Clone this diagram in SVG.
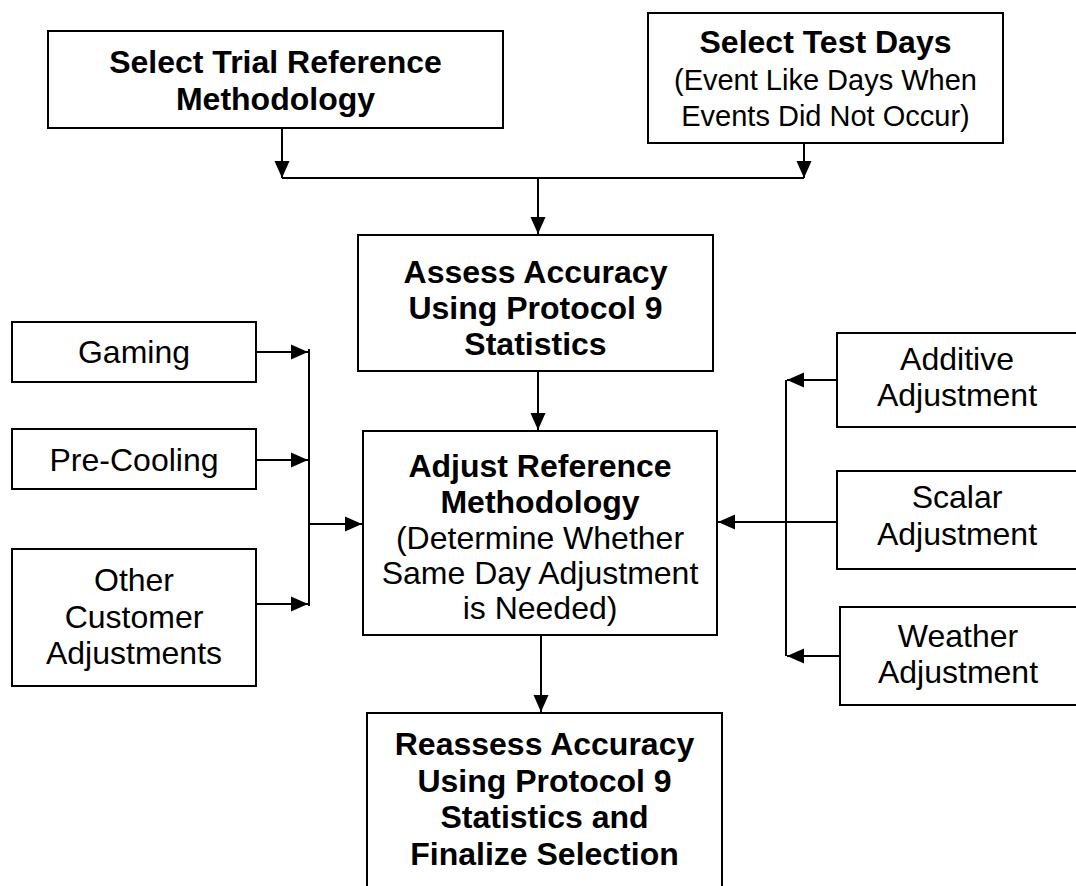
<svg xmlns="http://www.w3.org/2000/svg" width="1076" height="886" viewBox="0 0 1076 886">
  <style>
    .box { fill: #ffffff; stroke: #000000; stroke-width: 2; }
    .wire { fill: none; stroke: #000000; stroke-width: 2; }
    .t { font-family: "Liberation Sans", Arial, sans-serif; fill: #000000; text-anchor: middle; }
    .b { font-size: 32px; font-weight: bold; }
    .r { font-size: 32px; }
    .s { font-size: 29px; }
  </style>
  <defs>
    <marker id="arrow" markerUnits="userSpaceOnUse" markerWidth="17" markerHeight="16" viewBox="0 0 17 16" refX="17" refY="8" orient="auto">
      <path d="M0,0.5 L17,8 L0,15.5 Z" fill="#000000"/>
    </marker>
  </defs>

  <rect width="1076" height="886" fill="#ffffff"/>

  <!-- connectors -->
  <g id="connectors">
    <line class="wire" x1="282" y1="128" x2="282" y2="178" marker-end="url(#arrow)"/>
    <line class="wire" x1="804" y1="143" x2="804" y2="178" marker-end="url(#arrow)"/>
    <line class="wire" x1="282" y1="178" x2="804" y2="178"/>
    <line class="wire" x1="538" y1="178" x2="538" y2="234" marker-end="url(#arrow)"/>
    <line class="wire" x1="538" y1="371" x2="538" y2="430" marker-end="url(#arrow)"/>
    <line class="wire" x1="541" y1="635" x2="541" y2="712" marker-end="url(#arrow)"/>

    <!-- left collector -->
    <line class="wire" x1="256" y1="352" x2="308" y2="352" marker-end="url(#arrow)"/>
    <line class="wire" x1="256" y1="460" x2="308" y2="460" marker-end="url(#arrow)"/>
    <line class="wire" x1="256" y1="604" x2="308" y2="604" marker-end="url(#arrow)"/>
    <line class="wire" x1="309" y1="349" x2="309" y2="606"/>
    <line class="wire" x1="309" y1="524" x2="362" y2="524" marker-end="url(#arrow)"/>

    <!-- right collector -->
    <line class="wire" x1="837" y1="380" x2="787" y2="380" marker-end="url(#arrow)"/>
    <line class="wire" x1="837" y1="522" x2="718" y2="522" marker-end="url(#arrow)"/>
    <line class="wire" x1="840" y1="656" x2="787" y2="656" marker-end="url(#arrow)"/>
    <line class="wire" x1="786" y1="380" x2="786" y2="656"/>
  </g>

  <g id="select-trial">
    <rect class="box" x="48" y="31" width="455" height="97"/>
    <text class="t b" x="275.5" y="73">Select Trial Reference</text>
    <text class="t b" x="275.5" y="110">Methodology</text>
  </g>

  <g id="select-test-days">
    <rect class="box" x="648" y="13" width="355" height="130"/>
    <text class="t b" x="825.5" y="53">Select Test Days</text>
    <text class="t s" x="825.5" y="90">(Event Like Days When</text>
    <text class="t s" x="825.5" y="126">Events Did Not Occur)</text>
  </g>

  <g id="assess-accuracy">
    <rect class="box" x="358" y="235" width="355" height="136"/>
    <text class="t b" x="535.5" y="283">Assess Accuracy</text>
    <text class="t b" x="535.5" y="319">Using Protocol 9</text>
    <text class="t b" x="535.5" y="355">Statistics</text>
  </g>

  <g id="adjust-reference">
    <rect class="box" x="363" y="431" width="354" height="204"/>
    <text class="t b" x="540" y="477">Adjust Reference</text>
    <text class="t b" x="540" y="513">Methodology</text>
    <text class="t r" x="540" y="549">(Determine Whether</text>
    <text class="t r" x="540" y="584">Same Day Adjustment</text>
    <text class="t r" x="540" y="619">is Needed)</text>
  </g>

  <g id="reassess-accuracy">
    <rect class="box" x="367" y="713" width="355" height="200"/>
    <text class="t b" x="544.5" y="755">Reassess Accuracy</text>
    <text class="t b" x="544.5" y="792">Using Protocol 9</text>
    <text class="t b" x="544.5" y="828">Statistics and</text>
    <text class="t b" x="544.5" y="865">Finalize Selection</text>
  </g>

  <g id="gaming">
    <rect class="box" x="12" y="322" width="244" height="60"/>
    <text class="t r" x="134" y="363">Gaming</text>
  </g>

  <g id="pre-cooling">
    <rect class="box" x="12" y="429" width="244" height="60"/>
    <text class="t r" x="134" y="471">Pre-Cooling</text>
  </g>

  <g id="other-customer">
    <rect class="box" x="12" y="549" width="244" height="137"/>
    <text class="t r" x="134" y="591">Other</text>
    <text class="t r" x="134" y="628">Customer</text>
    <text class="t r" x="134" y="664">Adjustments</text>
  </g>

  <g id="additive">
    <rect class="box" x="837" y="333" width="242" height="94"/>
    <text class="t r" x="957" y="370">Additive</text>
    <text class="t r" x="957" y="406">Adjustment</text>
  </g>

  <g id="scalar">
    <rect class="box" x="837" y="471" width="242" height="98"/>
    <text class="t r" x="957" y="508">Scalar</text>
    <text class="t r" x="957" y="545">Adjustment</text>
  </g>

  <g id="weather">
    <rect class="box" x="840" y="607" width="240" height="98"/>
    <text class="t r" x="958" y="647">Weather</text>
    <text class="t r" x="958" y="683">Adjustment</text>
  </g>
</svg>
